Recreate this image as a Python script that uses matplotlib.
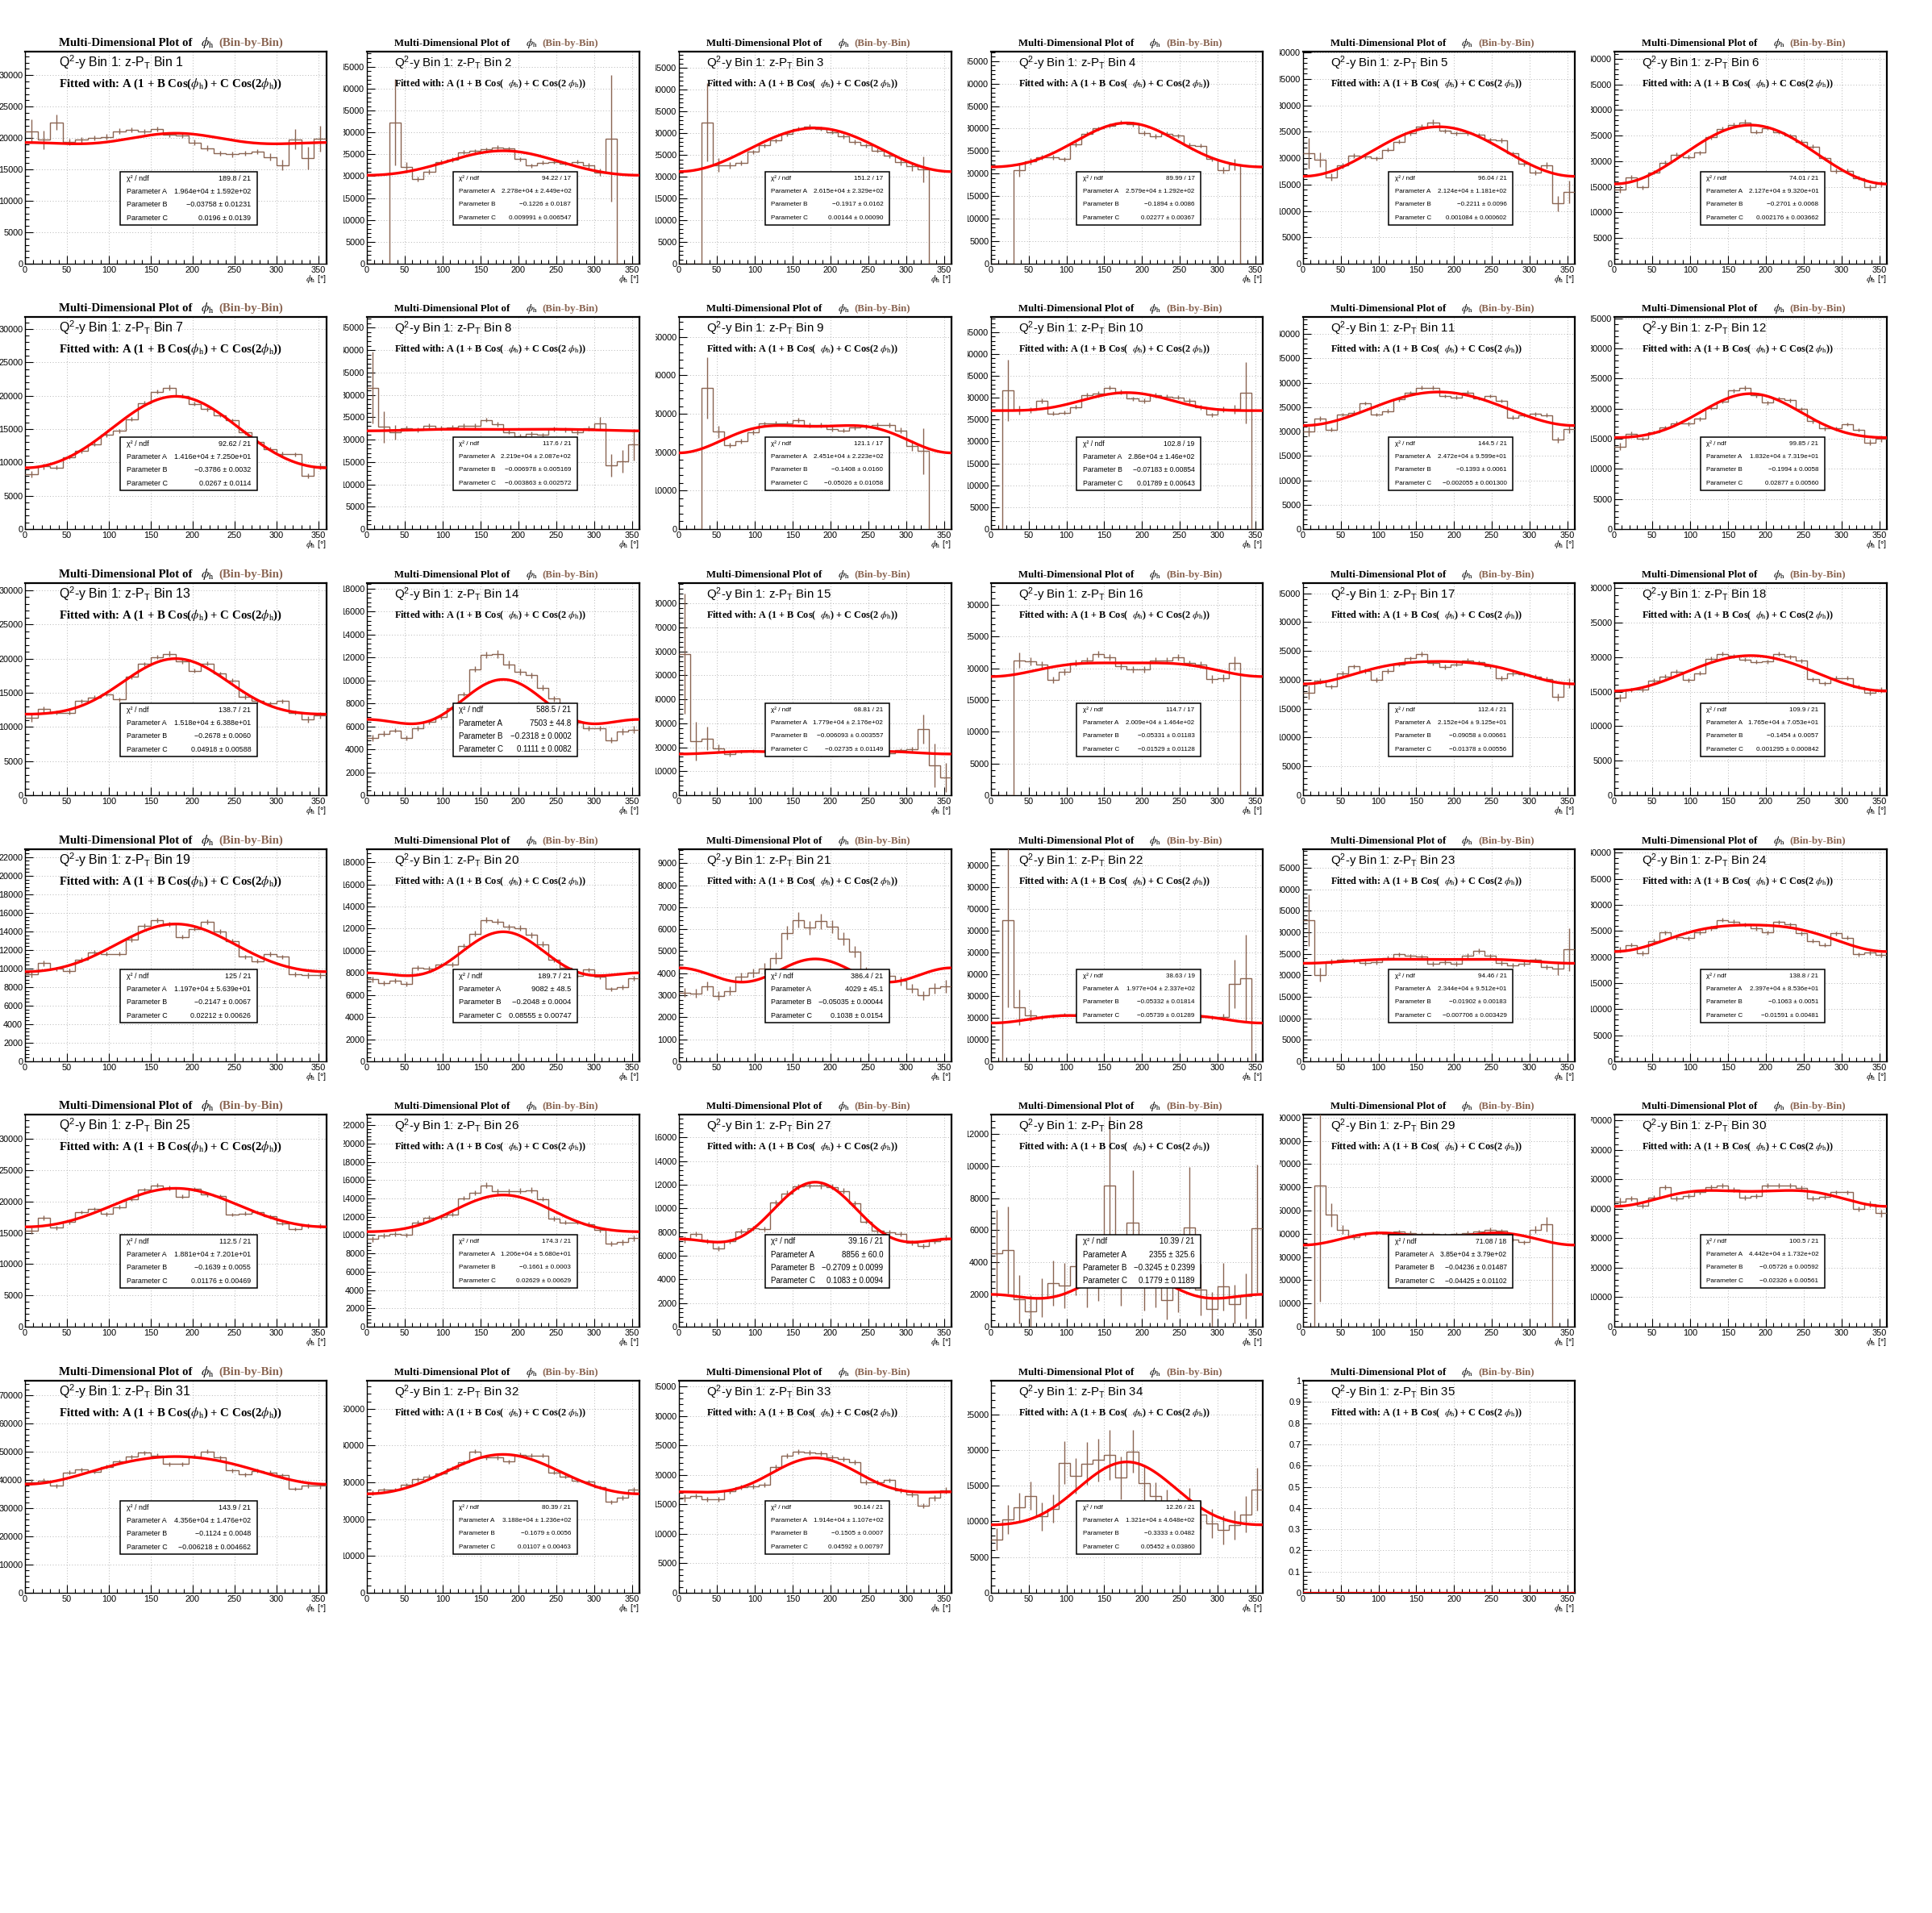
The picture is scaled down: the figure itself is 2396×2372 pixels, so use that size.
import matplotlib
matplotlib.use("Agg")
import matplotlib.pyplot as plt
import numpy as np
from matplotlib.patches import Rectangle
from matplotlib.ticker import FuncFormatter, MultipleLocator
from matplotlib.transforms import Bbox, TransformedBbox

# ---- data: phi_h histograms (15 degree bins) for Q2-y bin 1, z-PT bins 1..35 ----
PHI_EDGES = np.arange(0, 361, 15)

h01 = [21100, 19700, 22500, 19400, 19700, 20000, 20200, 21100, 21300, 21000, 21400, 20500, 20400, 19300, 18400, 17600, 17400, 17600, 17800, 17000, 15700, 19800, 16800, 19900]
h02 = [0, 0, 32300, 22100, 19300, 21000, 23200, 23800, 25500, 25700, 26100, 26600, 26300, 23900, 22400, 23100, 23300, 22900, 23300, 22400, 20900, 28600, 0, 0]
h03 = [0, 0, 32500, 22700, 22600, 23200, 25700, 27200, 28300, 29800, 31000, 31500, 31000, 30300, 29300, 28000, 27200, 26000, 24800, 23400, 22400, 21700, 0, 0]
h04 = [0, 0, 20800, 22800, 23600, 23600, 23200, 26500, 28900, 30000, 30700, 31400, 31000, 29000, 28300, 28800, 28400, 26400, 26200, 23200, 20800, 22000, 0, 0]
h05 = [20900, 19700, 16400, 18600, 20500, 20300, 20000, 21600, 23100, 24700, 26000, 26800, 25200, 24700, 24700, 24400, 23500, 23400, 20900, 18900, 17300, 18600, 11400, 13600]
h06 = [14500, 16800, 14900, 17800, 19700, 21300, 20800, 21700, 24700, 26300, 27100, 27600, 25700, 26500, 25700, 25000, 23800, 22900, 20600, 18100, 18100, 16700, 14900, 15600]
h07 = [8200, 9400, 9200, 10800, 11700, 12700, 14100, 14700, 16500, 18900, 20600, 21200, 20000, 18800, 18000, 17100, 16300, 14500, 13100, 12000, 11300, 11200, 8000, 9400]
h08 = [31600, 22800, 21600, 22500, 22200, 23100, 22500, 22700, 23100, 23100, 24400, 23400, 21700, 20700, 21300, 21000, 22300, 22200, 21600, 22500, 23600, 14300, 15200, 18900]
h09 = [0, 0, 36800, 25300, 21800, 22900, 25200, 27400, 27600, 27600, 28300, 27100, 27100, 26100, 25700, 26400, 26700, 27100, 27100, 25700, 21700, 20300, 0, 0]
h10 = [0, 31700, 27200, 27200, 29300, 26400, 26600, 27900, 30600, 31000, 32300, 31300, 29800, 29300, 30600, 30200, 30100, 29300, 27800, 26100, 27400, 27400, 31200, 0]
h11 = [20000, 22600, 20400, 23500, 23900, 25800, 23500, 24200, 26600, 27900, 29000, 29000, 27300, 27000, 28000, 26800, 27300, 26300, 22900, 23400, 23600, 23400, 18300, 20500]
h12 = [13700, 15800, 15000, 16100, 16900, 17600, 17500, 18300, 20100, 21200, 23000, 23500, 22200, 21000, 21700, 21400, 20000, 17900, 16700, 16700, 17400, 16500, 14400, 15000]
h13 = [11300, 12600, 12100, 12100, 13800, 14300, 14800, 14000, 17300, 19200, 20200, 20700, 19600, 18200, 19300, 17800, 16800, 14400, 13800, 13400, 13800, 12100, 11100, 11700]
h14 = [4980, 5370, 5650, 4980, 5840, 6360, 6780, 7550, 8810, 10980, 12220, 12310, 11380, 10750, 10440, 9350, 8410, 7240, 6310, 5840, 5840, 4790, 5560, 5720]
h15 = [59000, 22600, 23700, 19600, 17000, 18100, 18500, 18500, 18500, 18100, 18100, 17900, 16600, 16600, 17400, 17900, 18100, 17900, 17600, 18800, 19300, 27700, 12500, 7500]
h16 = [0, 0, 21300, 21100, 20600, 18200, 19500, 20900, 21200, 22300, 21700, 20400, 19800, 19800, 21300, 21300, 21700, 20800, 20600, 18300, 18500, 20800, 0, 0]
h17 = [17800, 19800, 18800, 21100, 22300, 21500, 20000, 21500, 22700, 23700, 24500, 22900, 22200, 22700, 23400, 23000, 22300, 20300, 21100, 20900, 20600, 20100, 17000, 19400]
h18 = [14100, 15300, 15300, 16600, 17200, 17900, 16700, 17700, 19800, 20500, 20200, 19700, 19300, 19400, 20500, 20100, 19500, 16800, 16200, 17000, 17000, 15700, 14900, 15300]
h19 = [9380, 10590, 9960, 9750, 10970, 11750, 11600, 11600, 13130, 14570, 15240, 14780, 13420, 14290, 15010, 14000, 12930, 11260, 10820, 11540, 11260, 9380, 9290, 9290]
h20 = [7430, 7070, 7310, 7020, 8470, 8400, 8720, 8760, 10460, 11550, 12790, 12640, 12150, 12060, 11430, 10610, 9200, 8470, 7750, 8280, 7630, 6540, 6710, 7510]
h21 = [3130, 3080, 3410, 2980, 3190, 3830, 4010, 4220, 4680, 5840, 6420, 6060, 6360, 6120, 5560, 4990, 4070, 3590, 3890, 3650, 3310, 3000, 3320, 3410]
h22 = [0, 64900, 24800, 21100, 20200, 20800, 21400, 21400, 21100, 20800, 21000, 20600, 21000, 21300, 20800, 21000, 21300, 20800, 20200, 20200, 20200, 35500, 38200, 0]
h23 = [32900, 20100, 23200, 23600, 23400, 22900, 23100, 24100, 24900, 24500, 24300, 22700, 23100, 22700, 24600, 25700, 24500, 22900, 22300, 22700, 23600, 21900, 21500, 26000]
h24 = [21400, 22300, 20700, 23100, 24700, 23800, 23600, 24700, 25500, 27100, 26800, 26200, 25500, 24700, 26700, 26200, 24500, 23100, 22300, 24500, 23700, 20500, 20800, 20400]
h25 = [15300, 17400, 15800, 16700, 18300, 18800, 18000, 19100, 20400, 21900, 22600, 22200, 20800, 22000, 21100, 20900, 17900, 18100, 18300, 17600, 16500, 15600, 16100, 16100]
h26 = [9560, 9940, 10150, 10000, 11400, 11930, 11990, 12280, 14040, 14620, 15440, 14770, 14770, 14830, 14910, 13950, 11780, 11400, 11400, 11200, 10530, 9060, 9210, 9650]
h27 = [7350, 7810, 7200, 6610, 7240, 8030, 8330, 8260, 10480, 11270, 11830, 11950, 11920, 11810, 11470, 10410, 8890, 8140, 7990, 7810, 7060, 6830, 7240, 7510]
h28 = [4570, 4770, 1710, 960, 1790, 2710, 2570, 3740, 3000, 3600, 8800, 3300, 6450, 2800, 3000, 1660, 2700, 6150, 2300, 1080, 2490, 1410, 1910, 6100]
h29 = [0, 60900, 48200, 41800, 38600, 39800, 40400, 39800, 40900, 40400, 39800, 39800, 39400, 40000, 40400, 40900, 41800, 41200, 37500, 36300, 41800, 44100, 0, 0]
h30 = [42500, 43500, 41100, 43800, 47300, 43600, 44300, 45700, 47300, 48000, 46500, 43800, 44300, 47900, 47900, 47900, 47100, 43600, 44100, 45600, 45600, 40000, 41600, 38500]
h31 = [39200, 39700, 37800, 42600, 43500, 42900, 44500, 46400, 48100, 49600, 48500, 45500, 45600, 48300, 50000, 47800, 43300, 41900, 43100, 42600, 41500, 36800, 38000, 37800]
h32 = [27100, 28000, 28000, 29300, 30800, 31600, 32400, 33800, 35400, 38400, 36700, 36700, 35600, 37500, 37300, 37300, 32700, 31600, 30400, 30200, 28700, 24700, 25800, 28000]
h33 = [16100, 16400, 15900, 15900, 17200, 17900, 18100, 18400, 21400, 23300, 24000, 23800, 23700, 23000, 22700, 22200, 18700, 18700, 19100, 17400, 16700, 14800, 16100, 17400]
h34 = [7500, 10300, 12000, 13600, 10700, 11800, 18200, 16400, 18100, 18600, 19300, 16100, 19800, 15400, 13500, 12500, 11200, 12700, 10900, 9700, 8800, 9500, 11000, 14500]
h35 = [0] * 24

e01 = [1900, 1500, 1200, 500, 400, 400, 400, 400, 400, 400, 400, 400, 400, 400, 400, 400, 400, 400, 400, 600, 800, 1600, 1800, 2000]
e02 = [0, 0, 9800, 1200, 600, 500, 500, 500, 500, 500, 500, 500, 500, 500, 500, 500, 500, 500, 500, 700, 900, 14500, 0, 0]
e03 = [0, 0, 9000, 1500, 700, 500, 500, 500, 500, 500, 500, 500, 500, 500, 500, 500, 500, 500, 500, 700, 1000, 3000, 0, 0]
e04 = [0, 0, 1500, 700, 500, 500, 500, 500, 500, 500, 500, 500, 500, 500, 500, 500, 500, 500, 500, 500, 700, 1200, 0, 0]
e05 = [2900, 1400, 700, 500, 400, 400, 400, 400, 400, 400, 400, 500, 400, 400, 400, 400, 400, 400, 400, 400, 500, 600, 1500, 2200]
e06 = [700, 500, 400, 400, 400, 400, 400, 400, 400, 400, 400, 500, 400, 400, 400, 400, 400, 400, 400, 400, 400, 400, 500, 600]
e07 = [500, 400, 300, 300, 300, 300, 300, 300, 300, 300, 300, 400, 300, 300, 300, 300, 300, 300, 300, 300, 300, 300, 400, 500]
e08 = [8000, 3500, 1600, 600, 500, 500, 500, 500, 500, 500, 500, 500, 500, 500, 500, 500, 500, 500, 500, 600, 1500, 2500, 2500, 3500]
e09 = [0, 0, 8000, 1500, 700, 600, 600, 600, 600, 600, 600, 600, 600, 600, 600, 600, 600, 600, 600, 700, 1300, 6000, 0, 0]
e10 = [0, 7000, 1000, 600, 500, 500, 500, 500, 500, 500, 500, 500, 500, 500, 500, 500, 500, 500, 500, 500, 600, 1000, 7000, 0]
e11 = [1000, 500, 400, 400, 400, 400, 400, 400, 400, 400, 400, 400, 400, 400, 400, 400, 400, 400, 400, 400, 400, 400, 600, 800]
e12 = [600, 400, 300, 300, 300, 300, 300, 300, 300, 300, 300, 400, 300, 300, 300, 300, 300, 300, 300, 300, 300, 300, 500, 500]
e13 = [500, 400, 300, 300, 300, 300, 300, 300, 300, 300, 300, 400, 300, 300, 300, 300, 300, 300, 300, 300, 300, 300, 500, 500]
e14 = [300, 250, 200, 200, 200, 200, 200, 200, 200, 250, 300, 350, 350, 300, 250, 250, 250, 200, 200, 200, 200, 250, 300, 300]
e15 = [25000, 8000, 5000, 1500, 800, 600, 600, 600, 600, 600, 600, 600, 600, 600, 600, 600, 600, 600, 600, 700, 1000, 6000, 9000, 6000]
e16 = [0, 0, 1200, 600, 500, 500, 500, 500, 500, 500, 500, 500, 500, 500, 500, 500, 500, 500, 500, 600, 600, 1100, 0, 0]
e17 = [1200, 500, 400, 400, 400, 400, 400, 400, 400, 400, 400, 400, 400, 400, 400, 400, 400, 400, 400, 400, 400, 400, 600, 800]
e18 = [500, 300, 300, 300, 300, 300, 300, 300, 300, 300, 300, 300, 300, 300, 300, 300, 300, 300, 300, 300, 300, 300, 400, 400]
e19 = [300, 300, 250, 250, 250, 250, 250, 250, 250, 250, 250, 300, 250, 250, 250, 250, 250, 250, 250, 250, 250, 250, 300, 300]
e20 = [250, 200, 200, 200, 200, 200, 200, 200, 200, 250, 250, 250, 250, 250, 250, 250, 200, 200, 200, 200, 200, 200, 250, 250]
e21 = [200, 200, 200, 200, 200, 200, 200, 250, 250, 300, 350, 300, 350, 300, 300, 250, 200, 200, 200, 200, 200, 200, 250, 300]
e22 = [0, 40000, 8000, 2500, 1000, 800, 800, 800, 800, 800, 800, 800, 800, 800, 800, 800, 800, 800, 800, 900, 1500, 11000, 20000, 0]
e23 = [6000, 1600, 600, 500, 500, 500, 500, 500, 500, 500, 500, 500, 500, 500, 500, 500, 500, 500, 500, 500, 500, 600, 1500, 5000]
e24 = [600, 400, 400, 400, 400, 400, 400, 400, 400, 400, 400, 400, 400, 400, 400, 400, 400, 400, 400, 400, 400, 400, 400, 500]
e25 = [500, 400, 300, 300, 300, 300, 300, 300, 300, 300, 300, 400, 300, 300, 300, 300, 300, 300, 300, 300, 300, 300, 400, 400]
e26 = [300, 250, 250, 250, 250, 250, 250, 250, 250, 250, 300, 300, 300, 300, 300, 250, 250, 250, 250, 250, 250, 250, 300, 300]
e27 = [250, 200, 200, 200, 200, 200, 200, 200, 200, 250, 250, 250, 250, 250, 250, 250, 200, 200, 200, 200, 200, 200, 200, 250]
e28 = [2700, 2700, 1500, 1000, 1200, 1400, 1400, 1800, 1800, 2000, 4300, 2000, 3300, 1800, 1800, 1200, 1800, 3800, 1600, 1100, 1500, 1200, 1400, 4000]
e29 = [0, 50000, 5000, 2000, 1000, 800, 800, 800, 800, 800, 800, 800, 800, 800, 800, 800, 800, 800, 800, 900, 1600, 3000, 0, 0]
e30 = [1300, 900, 800, 800, 800, 800, 800, 800, 800, 800, 800, 800, 800, 800, 800, 800, 800, 800, 800, 800, 800, 800, 1000, 1300]
e31 = [900, 700, 700, 700, 700, 700, 700, 700, 700, 700, 700, 700, 700, 700, 700, 700, 700, 700, 700, 700, 700, 700, 800, 900]
e32 = [700, 500, 500, 500, 500, 500, 500, 500, 500, 500, 500, 600, 500, 500, 500, 500, 500, 500, 500, 500, 500, 500, 600, 800]
e33 = [600, 400, 400, 400, 400, 400, 400, 400, 400, 400, 400, 400, 400, 400, 400, 400, 400, 400, 400, 400, 400, 400, 500, 600]
e34 = [1500, 2000, 2000, 2000, 2000, 2000, 3000, 2500, 3000, 3000, 3500, 3000, 3000, 2500, 2000, 2000, 2000, 2000, 2000, 2000, 2000, 2000, 2500, 3000]
e35 = [0] * 24

chi2_ndf = ["189.8 / 21", "94.22 / 17", "151.2 / 17", "89.99 / 17", "96.04 / 21", "74.01 / 21",
            "92.62 / 21", "117.6 / 21", "121.1 / 17", "102.8 / 19", "144.5 / 21", "99.85 / 21",
            "138.7 / 21", "588.5 / 21", "68.81 / 21", "114.7 / 17", "112.4 / 21", "109.9 / 21",
            "125 / 21", "189.7 / 21", "386.4 / 21", "38.63 / 19", "94.46 / 21", "138.8 / 21",
            "112.5 / 21", "174.3 / 21", "39.16 / 21", "10.39 / 21", "71.08 / 18", "100.5 / 21",
            "143.9 / 21", "80.39 / 21", "90.14 / 21", "12.26 / 21", None]
par_a = ["1.964e+04 ± 1.592e+02", "2.278e+04 ± 2.449e+02", "2.615e+04 ± 2.329e+02", "2.579e+04 ± 1.292e+02",
         "2.124e+04 ± 1.181e+02", "2.127e+04 ± 9.320e+01", "1.416e+04 ± 7.250e+01", "2.219e+04 ± 2.087e+02",
         "2.451e+04 ± 2.223e+02", "2.86e+04 ± 1.46e+02", "2.472e+04 ± 9.599e+01", "1.832e+04 ± 7.319e+01",
         "1.518e+04 ± 6.388e+01", "7503 ± 44.8", "1.779e+04 ± 2.176e+02", "2.009e+04 ± 1.464e+02",
         "2.152e+04 ± 9.125e+01", "1.765e+04 ± 7.053e+01", "1.197e+04 ± 5.639e+01", "9082 ± 48.5",
         "4029 ± 45.1", "1.977e+04 ± 2.337e+02", "2.344e+04 ± 9.512e+01", "2.397e+04 ± 8.536e+01",
         "1.881e+04 ± 7.201e+01", "1.206e+04 ± 5.680e+01", "8856 ± 60.0", "2355 ± 325.6",
         "3.85e+04 ± 3.79e+02", "4.442e+04 ± 1.732e+02", "4.356e+04 ± 1.476e+02", "3.188e+04 ± 1.236e+02",
         "1.914e+04 ± 1.107e+02", "1.321e+04 ± 4.648e+02", None]
par_b = ["-0.03758 ± 0.01231", "-0.1226 ± 0.0187", "-0.1917 ± 0.0162", "-0.1894 ± 0.0086",
         "-0.2211 ± 0.0096", "-0.2701 ± 0.0068", "-0.3786 ± 0.0032", "-0.006978 ± 0.005169",
         "-0.1408 ± 0.0160", "-0.07183 ± 0.00854", "-0.1393 ± 0.0061", "-0.1994 ± 0.0058",
         "-0.2678 ± 0.0060", "-0.2318 ± 0.0002", "-0.006093 ± 0.003557", "-0.05331 ± 0.01183",
         "-0.09058 ± 0.00661", "-0.1454 ± 0.0057", "-0.2147 ± 0.0067", "-0.2048 ± 0.0004",
         "-0.05035 ± 0.00044", "-0.05332 ± 0.01814", "-0.01902 ± 0.00183", "-0.1063 ± 0.0051",
         "-0.1639 ± 0.0055", "-0.1661 ± 0.0003", "-0.2709 ± 0.0099", "-0.3245 ± 0.2399",
         "-0.04236 ± 0.01487", "-0.05726 ± 0.00592", "-0.1124 ± 0.0048", "-0.1679 ± 0.0056",
         "-0.1505 ± 0.0007", "-0.3333 ± 0.0482", None]
par_c = ["0.0196 ± 0.0139", "0.009991 ± 0.006547", "0.00144 ± 0.00090", "0.02277 ± 0.00367",
         "0.001084 ± 0.000602", "0.002176 ± 0.003662", "0.0267 ± 0.0114", "-0.003863 ± 0.002572",
         "-0.05026 ± 0.01058", "0.01789 ± 0.00643", "-0.002055 ± 0.001300", "0.02877 ± 0.00560",
         "0.04918 ± 0.00588", "0.1111 ± 0.0082", "-0.02735 ± 0.01149", "-0.01529 ± 0.01128",
         "-0.01378 ± 0.00556", "0.001295 ± 0.000842", "0.02212 ± 0.00626", "0.08555 ± 0.00747",
         "0.1038 ± 0.0154", "-0.05739 ± 0.01289", "-0.007706 ± 0.003429", "-0.01591 ± 0.00481",
         "0.01176 ± 0.00469", "0.02629 ± 0.00629", "0.1083 ± 0.0094", "0.1779 ± 0.1189",
         "-0.04425 ± 0.01102", "-0.02326 ± 0.00561", "-0.006218 ± 0.004662", "0.01107 ± 0.00463",
         "0.04592 ± 0.00797", "0.05452 ± 0.03860", None]

hist_counts = [h01, h02, h03, h04, h05, h06, h07, h08, h09, h10, h11, h12, h13, h14, h15, h16, h17, h18,
               h19, h20, h21, h22, h23, h24, h25, h26, h27, h28, h29, h30, h31, h32, h33, h34, h35]
hist_errors = [e01, e02, e03, e04, e05, e06, e07, e08, e09, e10, e11, e12, e13, e14, e15, e16, e17, e18,
               e19, e20, e21, e22, e23, e24, e25, e26, e27, e28, e29, e30, e31, e32, e33, e34, e35]

# ---- layout (pixels of the 2396 x 2372 canvas) ----
W, H = 2396, 2372
COL_LEFT = [31, 455, 842, 1229, 1616, 2002]
COL_RIGHT = [405, 793, 1180, 1566, 1953, 2340]
ROW_TOP = [64, 393, 723, 1053, 1382, 1712]
FRAME_H = 263

BROWN = "#8a6552"
SANS = ["Liberation Sans", "DejaVu Sans"]
SERIF = ["Liberation Serif", "DejaVu Serif"]

plt.rcParams["font.family"] = SANS
plt.rcParams["mathtext.fontset"] = "custom"
plt.rcParams["mathtext.rm"] = "Liberation Sans"
plt.rcParams["mathtext.it"] = "Liberation Sans:italic"
plt.rcParams["mathtext.bf"] = "Liberation Sans:bold"


def central(text):
    return float(text.split("±")[0].strip()) if text else 0.0


def nice_step(ymax):
    raw = ymax / 10.0
    mag = 10 ** np.floor(np.log10(raw))
    m = raw / mag
    if m <= 1.0001:
        return mag
    if m <= 2.5:
        return 2 * mag
    if m <= 5.0001:
        return 5 * mag
    return 10 * mag


def add_stats(ax, rows, renderer):
    x0, x1, y0, y1 = 0.316, 0.771, 0.184, 0.434
    ax.add_patch(Rectangle((x0, y0), x1 - x0, y1 - y0, transform=ax.transAxes,
                           facecolor="white", edgecolor="black", lw=1.1, zorder=6))
    size = 7.3
    texts = []
    for k, (label, value) in enumerate(rows):
        y = y1 - (k + 0.5) * (y1 - y0) / 4
        t1 = ax.text(x0 + 0.047 * (x1 - x0), y, label, transform=ax.transAxes,
                     ha="left", va="center", fontsize=size, zorder=7)
        t2 = ax.text(x1 - 0.047 * (x1 - x0), y, value.replace("-", "\u2212"),
                     transform=ax.transAxes, ha="right", va="center", fontsize=size, zorder=7)
        texts.append((t1, t2))
    box_w = (x1 - x0) * ax.bbox.width
    widest = max(a.get_window_extent(renderer).width + b.get_window_extent(renderer).width
                 for a, b in texts)
    scale = min(1.0, 0.85 * box_w / widest)
    for a, b in texts:
        a.set_fontsize(size * scale)
        b.set_fontsize(size * scale)


fig = plt.figure(figsize=(W / 100, H / 100), dpi=100)
renderer = fig.canvas.get_renderer()
centers = 0.5 * (PHI_EDGES[:-1] + PHI_EDGES[1:])
phi = np.linspace(0, 360, 361)

for i in range(35):
    r, c = divmod(i, 6)
    left, right, top = COL_LEFT[c], COL_RIGHT[c], ROW_TOP[r]
    ax = fig.add_axes([left / W, 1 - (top + FRAME_H) / H, (right - left) / W, FRAME_H / H])

    counts = np.array(hist_counts[i], dtype=float)
    errs = np.array(hist_errors[i], dtype=float)
    ymax = 1.5 * counts.max() if counts.max() > 0 else 1.0

    ax.stairs(counts, PHI_EDGES, color=BROWN, lw=1.0, baseline=None, zorder=3)
    mask = counts > 0
    if mask.any():
        ax.errorbar(centers[mask], counts[mask], yerr=errs[mask], fmt="none",
                    ecolor=BROWN, elinewidth=1.0, capsize=0, zorder=3)

    a, b, cc = central(par_a[i]), central(par_b[i]), central(par_c[i])
    rad = np.radians(phi)
    ax.plot(phi, a * (1 + b * np.cos(rad) + cc * np.cos(2 * rad)), color="red", lw=2.4, zorder=4)

    ax.set_xlim(0, 360)
    ax.set_ylim(0, ymax)
    step = nice_step(ymax)
    ax.set_xticks(np.arange(0, 351, 50))
    ax.xaxis.set_minor_locator(MultipleLocator(10))
    ax.set_yticks(np.arange(0, ymax * 1.0001, step))
    ax.yaxis.set_minor_locator(MultipleLocator(step / 5))
    ax.yaxis.set_major_formatter(FuncFormatter(lambda v, pos: f"{v:g}"))
    ax.set_ylim(0, ymax)
    ax.tick_params(which="both", direction="in", top=False, right=False, width=0.8,
                   labelsize=7.8, pad=2)
    ax.tick_params(which="major", length=7)
    ax.tick_params(which="minor", length=3.5)
    ax.grid(True, which="major", color="#b4b4b4", ls=(0, (1, 2.5)), lw=0.7)
    ax.set_axisbelow(True)
    for name, sp in ax.spines.items():
        sp.set_linewidth(1.6 if name in ("top", "right") else 1.0)

    # the pad edge cuts the leading digit of wide y labels, as in the original canvas
    clip_x = 0 if c == 0 else left - 29
    clip = TransformedBbox(Bbox.from_extents(clip_x / W, 0, 1, 1), fig.transFigure)
    for tick in ax.yaxis.get_major_ticks():
        tick.label1.set_clip_box(clip)
        tick.label1.set_clip_on(True)

    xl = ax.set_xlabel(r"$\phi_{\mathrm{h}}$ [°]", fontsize=7.8, loc="right")
    xl.set_math_fontfamily("stix")
    ax.xaxis.set_label_coords(1.0, -0.045)

    first = c == 0
    x0 = 0.112 if first else 0.101
    ts = 10.7 if first else 9.3
    ax.text(x0, 1.027, "Multi-Dimensional Plot of", transform=ax.transAxes, fontsize=ts,
            fontweight="bold", family=SERIF, va="baseline")
    ax.text(0.583, 1.027, r"$\phi_{\mathrm{h}}$", transform=ax.transAxes, fontsize=ts,
            math_fontfamily="stix", va="baseline")
    ax.text(0.644, 1.027, "(Bin-by-Bin)", transform=ax.transAxes, fontsize=ts,
            fontweight="bold", family=SERIF, color=BROWN, va="baseline")

    ax.text(x0, 0.928, r"Q$^{\mathrm{2}}$-y Bin 1: z-P$_{\mathrm{T}}$ Bin %d" % (i + 1),
            transform=ax.transAxes, fontsize=11.4 if first else 10.8, va="baseline", zorder=8)
    fit_text = (r"Fitted with: A (1 + B Cos($\phi_{\mathrm{h}}$) + C Cos(2$\phi_{\mathrm{h}}$))" if first
                else r"Fitted with: A (1 + B Cos(  $\phi_{\mathrm{h}}$) + C Cos(2 $\phi_{\mathrm{h}}$))")
    ax.text(x0, 0.835, fit_text, transform=ax.transAxes, fontsize=10.7 if first else 8.8,
            fontweight="bold", family=SERIF, math_fontfamily="stix", va="baseline", zorder=8)

    if chi2_ndf[i] is not None:
        rows = [("χ² / ndf", chi2_ndf[i]), ("Parameter A", par_a[i]),
                ("Parameter B", par_b[i]), ("Parameter C", par_c[i])]
        add_stats(ax, rows, renderer)

fig.savefig("out.png", dpi=100, facecolor="white")
